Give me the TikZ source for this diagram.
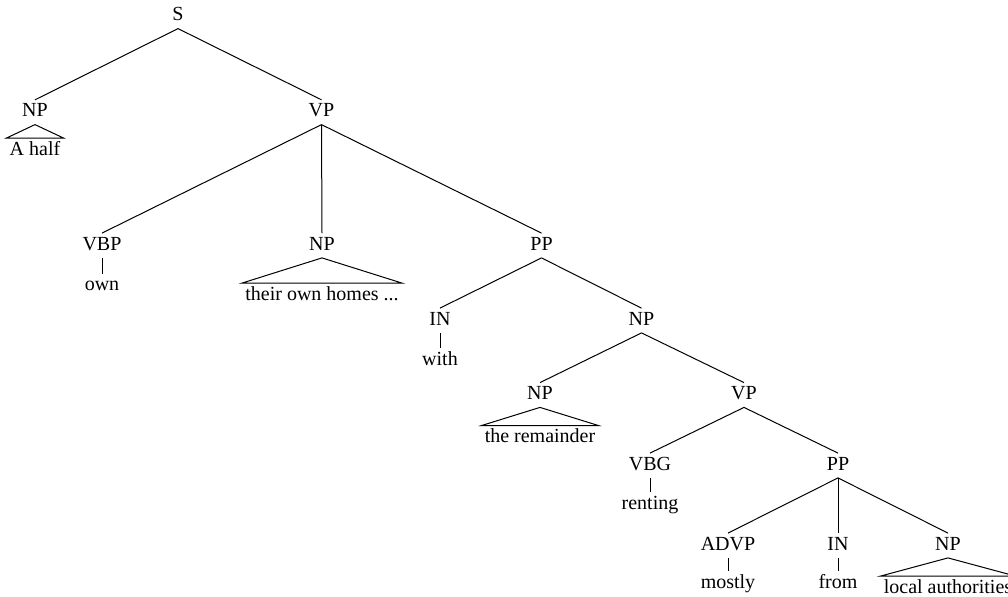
\documentclass[tikz,border=0pt]{standalone}
\usepackage{fontspec}
\setmainfont{Liberation Serif}
\begin{document}
\begin{tikzpicture}[x=0.5pt,y=-0.5pt,
  cat/.style={font=\fontsize{10}{12}\selectfont, inner xsep=1pt, inner ysep=0pt,
    text height=8.25pt, text depth=3.75pt, anchor=base},
  word/.style={cat, inner xsep=1.5pt},
  edge/.style={line width=0.5pt}]
\useasboundingbox (0,0) rectangle (1008,596);
% categories (positioned at baseline)
\node[cat] (S) at (178,20.7) {S};
\node[cat] (NPa) at (35,116.7) {NP};
\node[cat] (VPa) at (321.5,116.7) {VP};
\node[cat] (VBP) at (102,250) {VBP};
\node[cat] (NPb) at (322,250) {NP};
\node[cat] (PPa) at (541.5,250) {PP};
\node[cat] (INa) at (440,325) {IN};
\node[cat] (NPc) at (641.5,325) {NP};
\node[cat] (NPd) at (540,399.5) {NP};
\node[cat] (VPb) at (744,399.5) {VP};
\node[cat] (VBG) at (650,470) {VBG};
\node[cat] (PPb) at (838,470) {PP};
\node[cat] (ADVP) at (728,550) {ADVP};
\node[cat] (INb) at (838,550) {IN};
\node[cat] (NPe) at (948,550) {NP};
% words
\node[word] (wA) at (35,155) {A half};
\node[word] (wown) at (102,290.5) {own};
\node[word] (wtheir) at (322,300) {their own homes ...};
\node[word] (wwith) at (440,365) {with};
\node[word] (wrem) at (540,442.5) {the remainder};
\node[word] (wrent) at (650,509) {renting};
\node[word] (wmost) at (728,588) {mostly};
\node[word] (wfrom) at (838,588) {from};
\node[word] (wlocal) at (948,593) {local authorities};
% edges
\draw[edge] (S.south) -- (NPa.north);
\draw[edge] (S.south) -- (VPa.north);
\draw[edge] (VPa.south) -- (VBP.north);
\draw[edge] (VPa.south) -- (NPb.north);
\draw[edge] (VPa.south) -- (PPa.north);
\draw[edge] (PPa.south) -- (INa.north);
\draw[edge] (PPa.south) -- (NPc.north);
\draw[edge] (NPc.south) -- (NPd.north);
\draw[edge] (NPc.south) -- (VPb.north);
\draw[edge] (VPb.south) -- (VBG.north);
\draw[edge] (VPb.south) -- (PPb.north);
\draw[edge] (PPb.south) -- (ADVP.north);
\draw[edge] (PPb.south) -- (INb.north);
\draw[edge] (PPb.south) -- (NPe.north);
% unary leaves
\draw[edge] (VBP.south) -- (wown.north);
\draw[edge] (INa.south) -- (wwith.north);
\draw[edge] (VBG.south) -- (wrent.north);
\draw[edge] (ADVP.south) -- (wmost.north);
\draw[edge] (INb.south) -- (wfrom.north);
% roofs
\draw[edge] (NPa.south) -- (wA.north west) -- (wA.north east) -- cycle;
\draw[edge] (NPb.south) -- (wtheir.north west) -- (wtheir.north east) -- cycle;
\draw[edge] (NPd.south) -- (wrem.north west) -- (wrem.north east) -- cycle;
\draw[edge] (NPe.south) -- (wlocal.north west) -- (wlocal.north east) -- cycle;
\end{tikzpicture}
\end{document}
